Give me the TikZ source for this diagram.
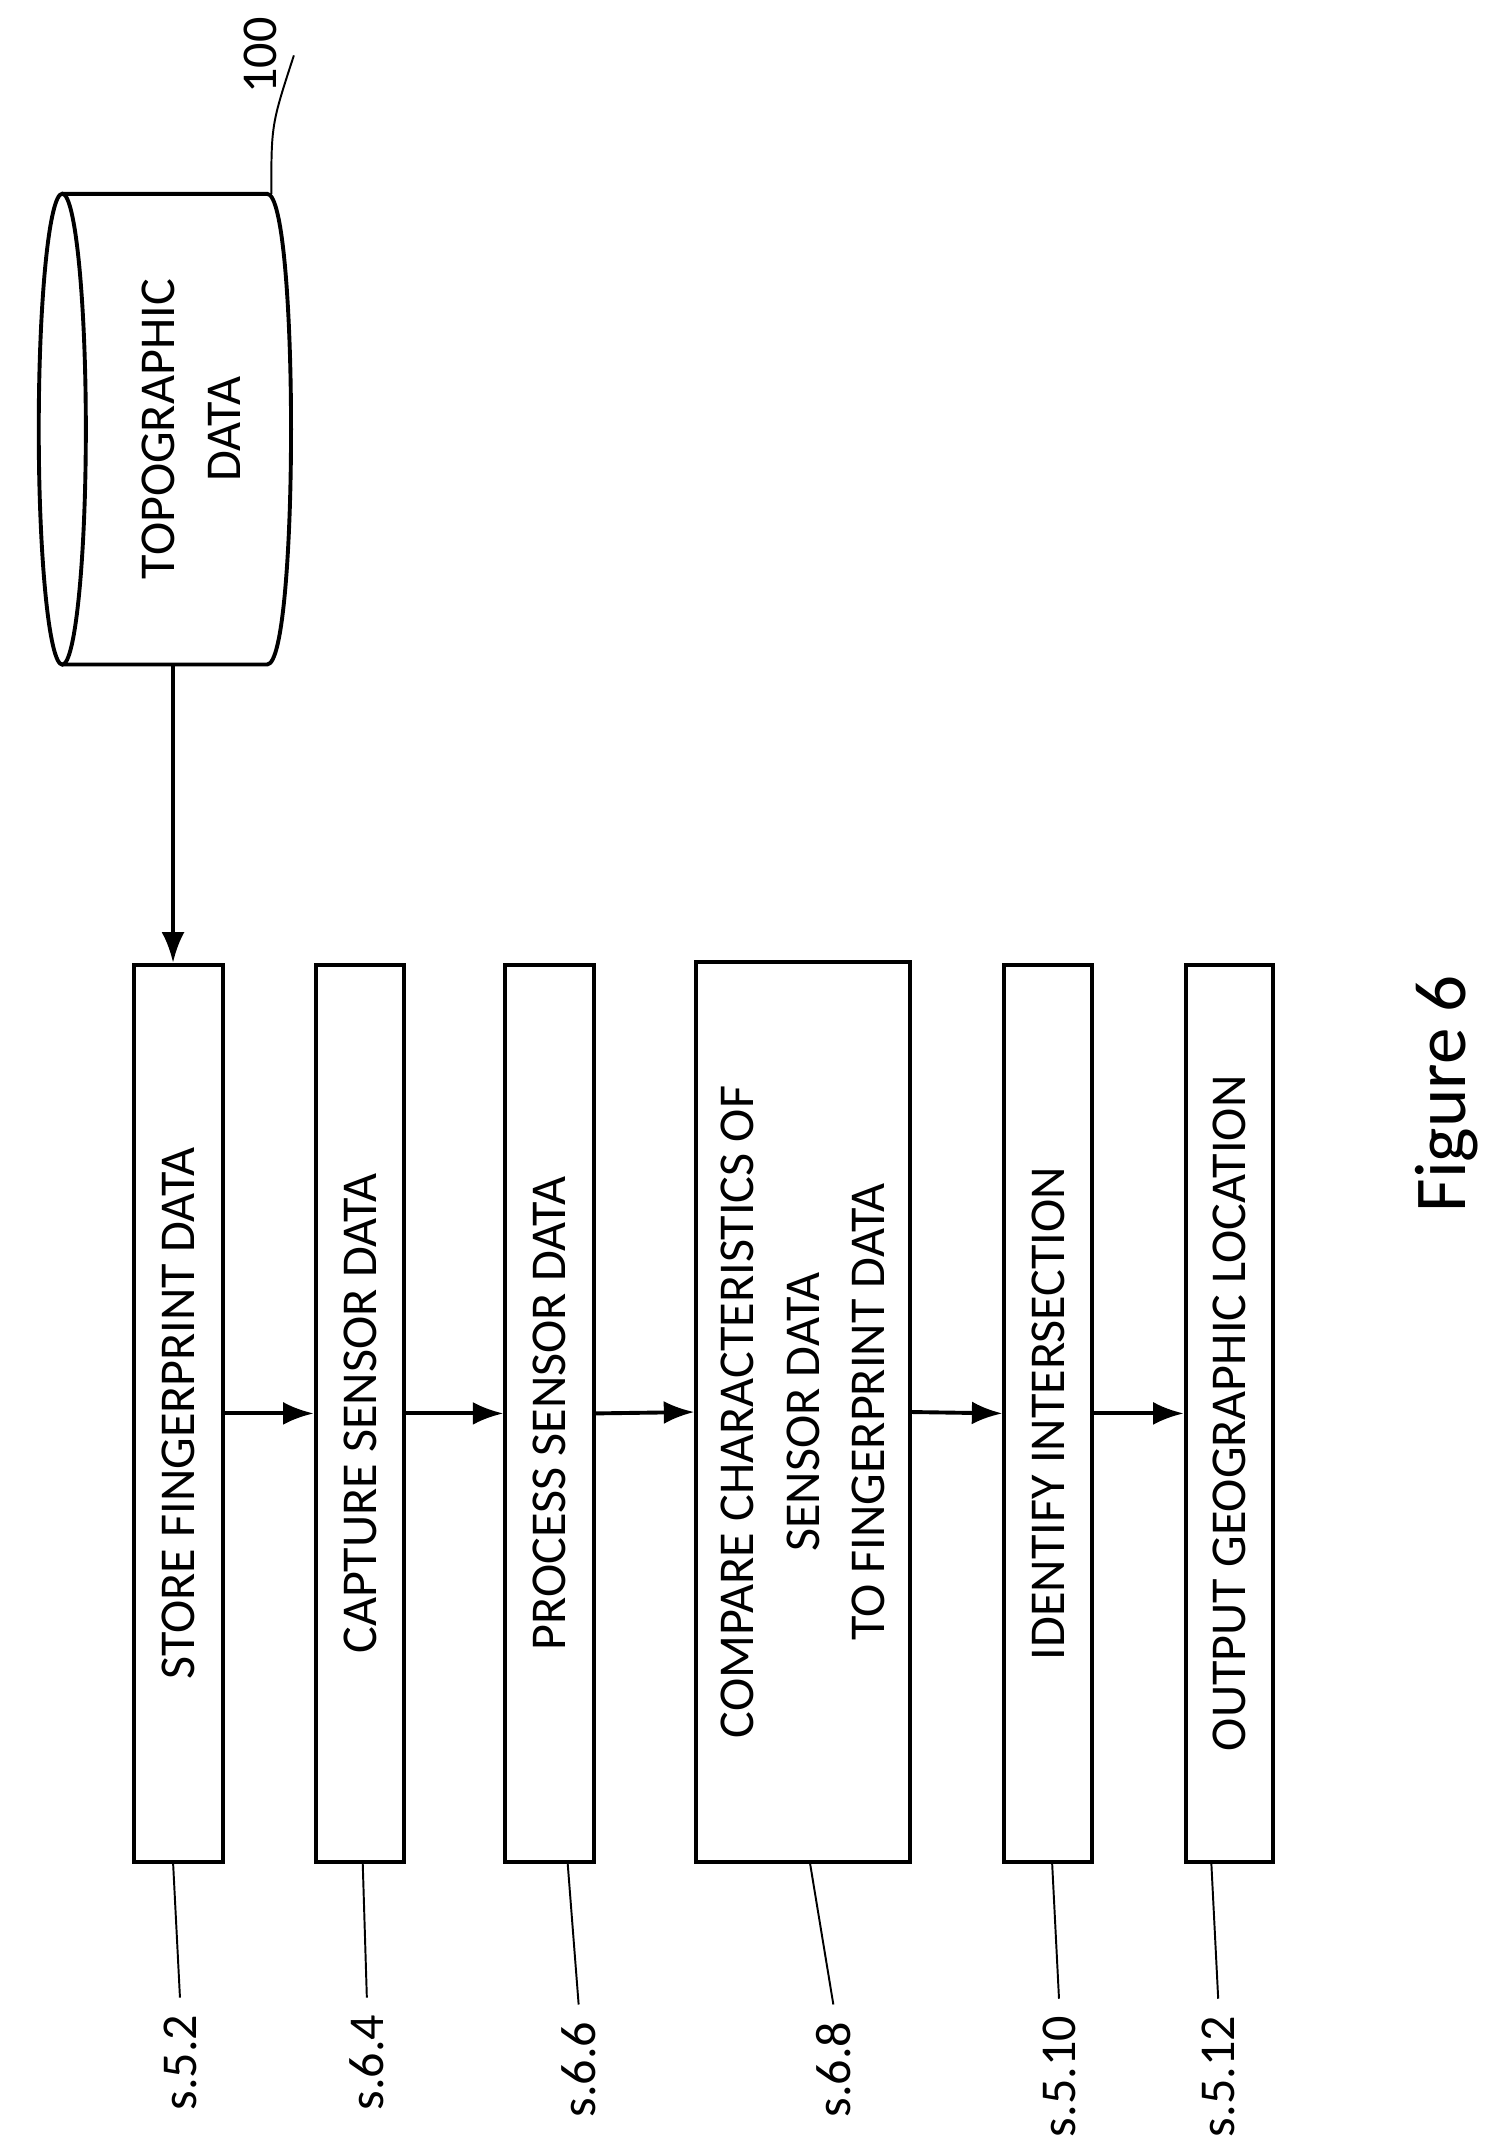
\documentclass[tikz,border=0pt]{standalone}
\usepackage{fontspec}
\setmainfont{Carlito}
\usetikzlibrary{arrows.meta}
\usetikzlibrary{positioning}

\tikzset{
  stepbox/.style={draw, thick, rotate=90, align=center, minimum width=6.48cm, inner sep=2pt, font=\fontsize{10.3}{13.5}\selectfont},
  flow/.style={thick, -{Latex[length=2.2mm]}},
  lead/.style={thin},
  tag/.style={rotate=90, font=\fontsize{10.3}{12}\selectfont}
}

\begin{document}
\begin{tikzpicture}[x=0.01cm, y=-0.01cm]

\useasboundingbox (0,0) rectangle (1083,1556);

% database
\draw[thick] (45,310) ellipse (0.17cm and 1.7cm);
\draw[thick] (45,140) -- (193,140) .. controls (216,140) and (216,480) .. (193,480) -- (45,480);
\node[rotate=90, align=center, font=\fontsize{10.3}{13.5}\selectfont] (db) at (138,310) {TOPOGRAPHIC\\DATA};
\coordinate (dbbot) at (125,480);
\node[tag] (t100) at (188,40) {100};
\draw[lead] (196,140) .. controls (196,90) .. (t100.south);

% steps
\node[stepbox, minimum height=0.64cm] (s52) at (129,1021) {STORE FINGERPRINT DATA};
\node[stepbox, minimum height=0.64cm] (s64) at (260,1021) {CAPTURE SENSOR DATA};
\node[stepbox, minimum height=0.64cm] (s66) at (397,1021) {PROCESS SENSOR DATA};
\node[stepbox, minimum height=1.54cm, minimum width=6.5cm] (s68) at (580,1020) {COMPARE CHARACTERISTICS OF\\SENSOR DATA\\TO FINGERPRINT DATA};
\node[stepbox, minimum height=0.63cm] (s510) at (757,1021) {IDENTIFY INTERSECTION};
\node[stepbox, minimum height=0.63cm] (s512) at (888,1021) {OUTPUT GEOGRAPHIC LOCATION};

\draw[flow] (dbbot) -- (dbbot |- s52.east);
\draw[flow] (s52.south) -- (s64.north);
\draw[flow] (s64.south) -- (s66.north);
\draw[flow] (s66.south) -- (s68.north);
\draw[flow] (s68.south) -- (s510.north);
\draw[flow] (s510.south) -- (s512.north);

% reference labels
\node[tag] (l52) at (130,1490) {s.5.2};
\node[tag] (l64) at (265,1490) {s.6.4};
\node[tag] (l66) at (418,1495) {s.6.6};
\node[tag] (l68) at (602,1495) {s.6.8};
\node[tag] (l510) at (765,1500) {s.5.10};
\node[tag] (l512) at (880,1500) {s.5.12};

\draw[lead] (125,1345) -- (l52.east);
\draw[lead] (262,1345) -- (l64.east);
\draw[lead] (410,1345) -- (l66.east);
\draw[lead] (585,1345) -- (l68.east);
\draw[lead] (760,1345) -- (l510.east);
\draw[lead] (875,1345) -- (l512.east);

\node[rotate=90, font=\fontsize{15}{18}\selectfont] (fig) at (1045,790) {Figure 6};

\end{tikzpicture}
\end{document}
